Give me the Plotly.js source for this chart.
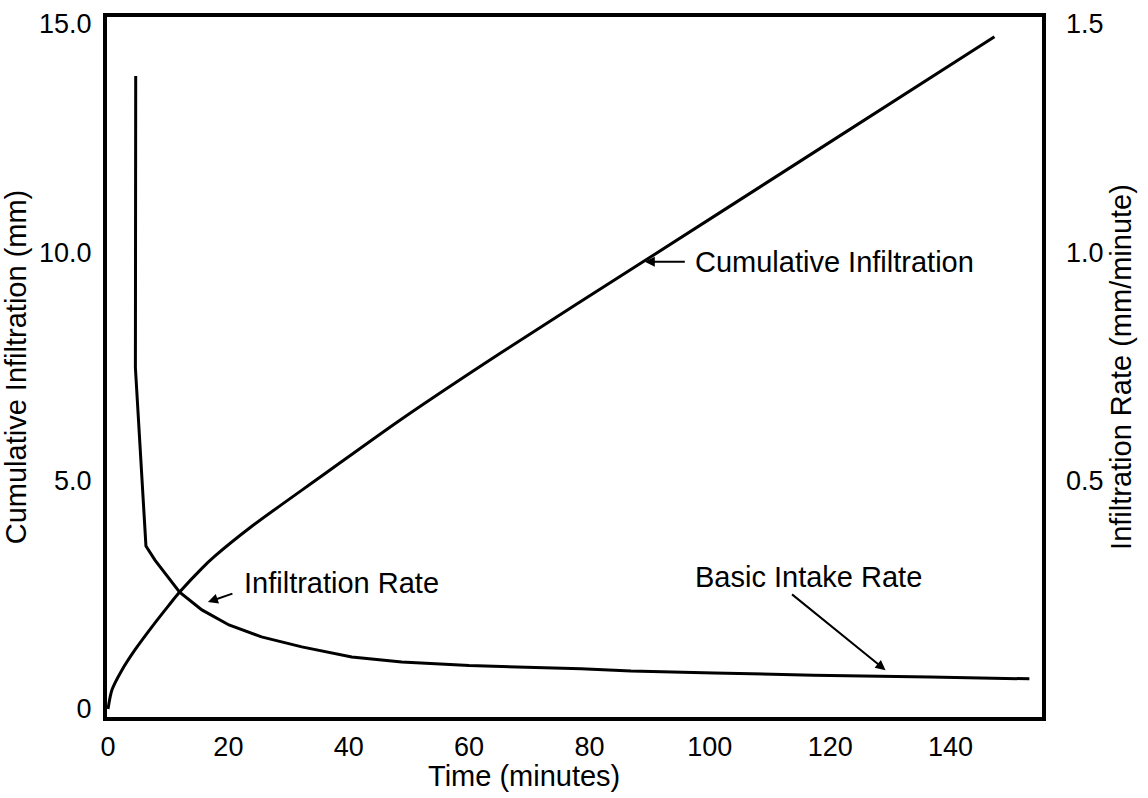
<!DOCTYPE html>
<html>
<head>
<meta charset="utf-8">
<script src="https://cdn.plot.ly/plotly-3.0.1.min.js"></script>
<style>html,body{margin:0;padding:0;background:#fff;}#chart{width:1148px;height:798px;}</style>
</head>
<body>
<div id="chart"></div>
<script>
// Cumulative infiltration (mm) vs time (minutes)
const cumTime = [0, 0.66, 2.3, 4.5, 7.3, 10.1, 11.9, 15.6, 17.7, 23.9, 35.5, 48.8, 65.3, 88.9, 115.1, 147.3];
const cumValue = [0, 0.42, 0.85, 1.3, 1.8, 2.27, 2.56, 3.08, 3.34, 4.0, 5.1, 6.35, 7.8, 9.79, 12.0, 14.72];

// Infiltration rate (mm/minute) vs time (minutes)
const rateTime = [4.6, 4.55, 6.3, 7.8, 11.9, 15.6, 20.1, 25.5, 32.2, 40.5, 48.8, 60, 78.6, 86.9, 100.7, 117.2, 136.6, 153.1];
const rateValue = [1.386, 0.747, 0.357, 0.326, 0.256, 0.217, 0.184, 0.158, 0.136, 0.114, 0.103, 0.095, 0.088, 0.083, 0.079, 0.074, 0.070, 0.066];

// Tick labels
const xTicks = [0, 20, 40, 60, 80, 100, 120, 140];
const yLeftTicks = [0, 5, 10, 15];
const yLeftLabels = ["0", "5.0", "10.0", "15.0"];
const yRightTicks = [0.5, 1.0, 1.5];
const yRightLabels = ["0.5", "1.0", "1.5"];

const FONT = "Liberation Sans, Arial, Helvetica, sans-serif";

const traces = [
  {x: cumTime, y: cumValue, type: "scatter", mode: "lines", name: "Cumulative Infiltration",
   line: {color: "#000", width: 3, shape: "spline", smoothing: 0.8}, yaxis: "y", hoverinfo: "x+y"},
  {x: rateTime, y: rateValue, type: "scatter", mode: "lines", name: "Infiltration Rate",
   line: {color: "#000", width: 3}, yaxis: "y2", hoverinfo: "x+y"}
];

const layout = {
  width: 1148, height: 798,
  margin: {l: 107, r: 106, t: 17, b: 81},
  paper_bgcolor: "#fff", plot_bgcolor: "#fff",
  showlegend: false,
  font: {family: FONT, color: "#000", size: 27},
  xaxis: {
    range: [-0.17, 155.2], showgrid: false, zeroline: false,
    showline: true, mirror: true, linecolor: "#000", linewidth: 4,
    tickmode: "array", tickvals: xTicks, ticks: "", ticklabelstandoff: 3,
    tickfont: {family: FONT, size: 27, color: "#000"}
  },
  yaxis: {
    range: [-0.175, 15.15], showgrid: false, zeroline: false,
    showline: true, mirror: true, linecolor: "#000", linewidth: 4,
    tickmode: "array", tickvals: yLeftTicks, ticktext: yLeftLabels, ticks: "", ticklabelstandoff: 6,
    tickfont: {family: FONT, size: 27, color: "#000"},
    title: {text: "Cumulative Infiltration (mm)", font: {family: FONT, size: 29, color: "#000"}, standoff: 8}
  },
  yaxis2: {
    range: [-0.0175, 1.515], overlaying: "y", side: "right", showgrid: false, zeroline: false,
    showline: false, tickmode: "array", tickvals: yRightTicks, ticktext: yRightLabels, ticks: "", ticklabelstandoff: 23,
    tickfont: {family: FONT, size: 27, color: "#000"},
    title: {text: "Infiltration Rate (mm/minute)", font: {family: FONT, size: 29, color: "#000"}, standoff: 8}
  },
  annotations: [
    {xref: "paper", yref: "paper", x: 0.446, y: -0.084, yanchor: "middle", xanchor: "center", showarrow: false,
     text: "Time (minutes)", font: {family: FONT, size: 29, color: "#000"}},
    {x: 89.2, y: 9.79, xref: "x", yref: "y", axref: "pixel", ayref: "pixel", ax: 48, ay: 0,
     xanchor: "left", yanchor: "middle", text: "Cumulative Infiltration", showarrow: true,
     arrowhead: 2, arrowsize: 1, arrowwidth: 2, arrowcolor: "#000", startstandoff: 8,
     font: {family: FONT, size: 29, color: "#000"}},
    {x: 16.6, y: 0.234, xref: "x", yref: "y2", axref: "pixel", ayref: "pixel", ax: 26, ay: -9,
     text: "", showarrow: true, arrowhead: 2, arrowsize: 1, arrowwidth: 2, arrowcolor: "#000"},
    {x: 22.3, y: 0.276, xref: "x", yref: "y2", xanchor: "left", yanchor: "middle", showarrow: false,
     text: "Infiltration Rate", font: {family: FONT, size: 29, color: "#000"}},
    {x: 129.2, y: 0.085, xref: "x", yref: "y2", axref: "pixel", ayref: "pixel", ax: -95, ay: -77,
     text: "", showarrow: true, arrowhead: 2, arrowsize: 1, arrowwidth: 2, arrowcolor: "#000"},
    {x: 135.6, y: 0.288, xref: "x", yref: "y2", xanchor: "right", yanchor: "middle", showarrow: false,
     text: "Basic Intake Rate", font: {family: FONT, size: 29, color: "#000"}}
  ]
};

Plotly.newPlot("chart", traces, layout, {staticPlot: true, displayModeBar: false});
</script>
</body>
</html>
